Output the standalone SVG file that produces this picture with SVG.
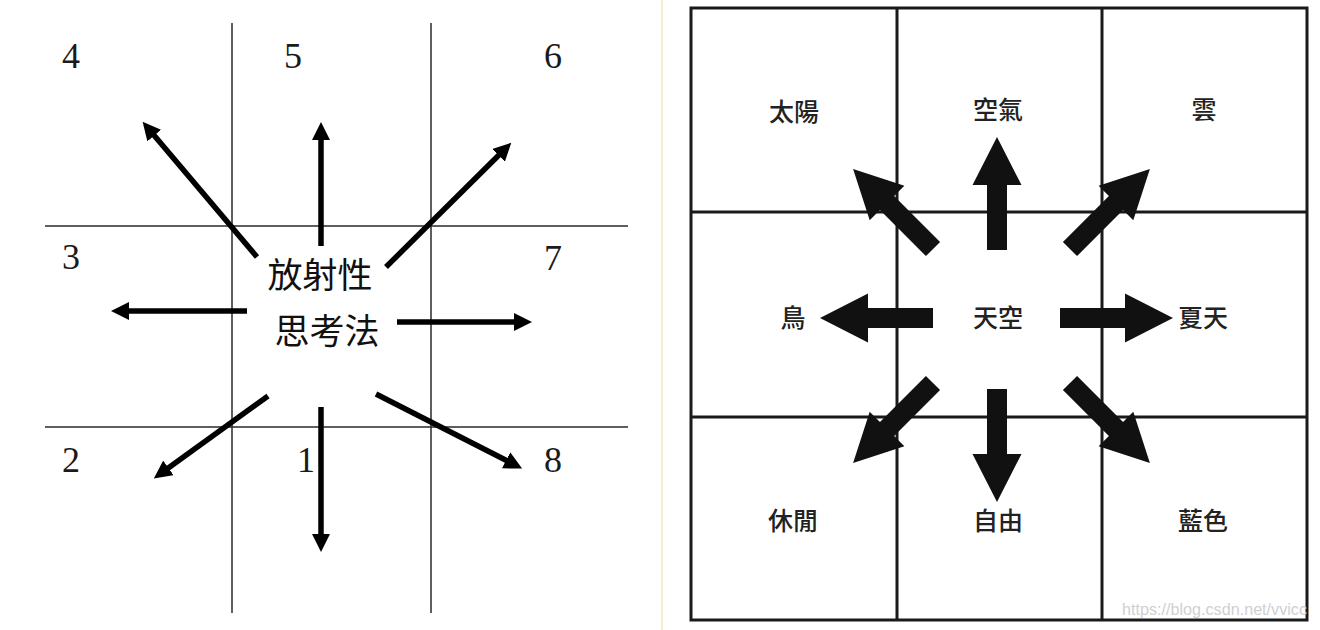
<svg xmlns="http://www.w3.org/2000/svg" width="1320" height="630" viewBox="0 0 1320 630">
<style>
.bg{fill:#ffffff}
.lgrid{stroke:#2a2a2a;stroke-width:1.5;fill:none}
.num{font-family:"Liberation Serif","DejaVu Serif",serif;font-size:36px;fill:#1a1a1a;text-anchor:middle}
.ctext{font-family:"Noto Sans CJK TC","Noto Sans CJK SC",sans-serif;font-size:35px;font-weight:400;fill:#111;text-anchor:middle}
.larr{stroke:#000;stroke-width:5.5;fill:none;marker-end:url(#head)}
.rgrid{stroke:#1a1a1a;stroke-width:3;fill:none}
.lbl{font-family:"Noto Sans CJK TC","Noto Sans CJK SC",sans-serif;font-size:25px;font-weight:500;fill:#222;text-anchor:middle}
.barr{fill:#111}
.wm{font-family:"Liberation Sans","DejaVu Sans",sans-serif;font-size:17px;fill:#d0d0d0}
</style>
<defs>
<marker id="head" markerUnits="userSpaceOnUse" markerWidth="19" markerHeight="18" refX="1" refY="9" orient="auto">
<path d="M0,0 L18,9 L0,18 Z" fill="#000"/>
</marker>
<path id="block" d="M-10,0 L-10,-65 L-24.5,-65 L0,-113 L24.5,-65 L10,-65 L10,0 Z"/>
</defs>
<rect class="bg" x="0" y="0" width="1320" height="630"/>
<line x1="662" y1="0" x2="662" y2="630" stroke="#f6ecd2" stroke-width="2"/>

<!-- Left diagram -->
<g id="left-grid">
<line class="lgrid" x1="232" y1="23" x2="232" y2="613"/>
<line class="lgrid" x1="431" y1="23" x2="431" y2="613"/>
<line class="lgrid" x1="45" y1="226" x2="628" y2="226"/>
<line class="lgrid" x1="45" y1="427" x2="628" y2="427"/>
</g>
<g id="n4"><text class="num" x="71" y="68">4</text></g>
<g id="n5"><text class="num" x="293" y="68">5</text></g>
<g id="n6"><text class="num" x="553" y="68">6</text></g>
<g id="n3"><text class="num" x="71" y="269">3</text></g>
<g id="n7"><text class="num" x="553" y="270">7</text></g>
<g id="n2"><text class="num" x="71" y="472">2</text></g>
<g id="n1"><text class="num" x="306" y="472">1</text></g>
<g id="n8"><text class="num" x="553" y="472">8</text></g>
<g id="center-left">
<text class="ctext" x="320" y="288">放射性</text>
<text class="ctext" x="327" y="344">思考法</text>
</g>
<g id="left-connectors">
<line class="larr" x1="321" y1="246" x2="321" y2="139"/>
<line class="larr" x1="257" y1="257" x2="153.6" y2="134.8"/>
<line class="larr" x1="386" y1="267" x2="499.2" y2="154.7"/>
<line class="larr" x1="247" y1="311" x2="128" y2="311"/>
<line class="larr" x1="397" y1="322" x2="515" y2="322"/>
<line class="larr" x1="268" y1="396" x2="167.6" y2="468.5"/>
<line class="larr" x1="321" y1="407" x2="321" y2="535"/>
<line class="larr" x1="376" y1="394" x2="507" y2="460.8"/>
</g>

<!-- Right diagram -->
<g id="right-grid">
<rect class="rgrid" x="691" y="8" width="616" height="612"/>
<line class="rgrid" x1="897" y1="8" x2="897" y2="620"/>
<line class="rgrid" x1="1102" y1="8" x2="1102" y2="620"/>
<line class="rgrid" x1="691" y1="212" x2="1307" y2="212"/>
<line class="rgrid" x1="691" y1="417" x2="1307" y2="417"/>
</g>
<g id="r-sun"><text class="lbl" x="794" y="121">太陽</text></g>
<g id="r-air"><text class="lbl" x="998" y="119">空氣</text></g>
<g id="r-cloud"><text class="lbl" x="1204" y="119">雲</text></g>
<g id="r-bird"><text class="lbl" x="793" y="327">鳥</text></g>
<g id="r-sky"><text class="lbl" x="998" y="327">天空</text></g>
<g id="r-summer"><text class="lbl" x="1203" y="327">夏天</text></g>
<g id="r-leisure"><text class="lbl" x="793" y="530">休閒</text></g>
<g id="r-free"><text class="lbl" x="998" y="530">自由</text></g>
<g id="r-blue"><text class="lbl" x="1203" y="530">藍色</text></g>
<g id="right-connectors" class="barr">
<use href="#block" transform="translate(997,250)"/>
<use href="#block" transform="translate(997,389) rotate(180)"/>
<use href="#block" transform="translate(933,318) rotate(-90)"/>
<use href="#block" transform="translate(1060,318) rotate(90)"/>
<use href="#block" transform="translate(933,249) rotate(-45)"/>
<use href="#block" transform="translate(1070,249) rotate(45)"/>
<use href="#block" transform="translate(933,383) rotate(-135)"/>
<use href="#block" transform="translate(1070,383) rotate(135)"/>
</g>
<text class="wm" x="1122" y="615" textLength="185" lengthAdjust="spacingAndGlyphs">https://blog.csdn.net/vvicc</text>
</svg>
